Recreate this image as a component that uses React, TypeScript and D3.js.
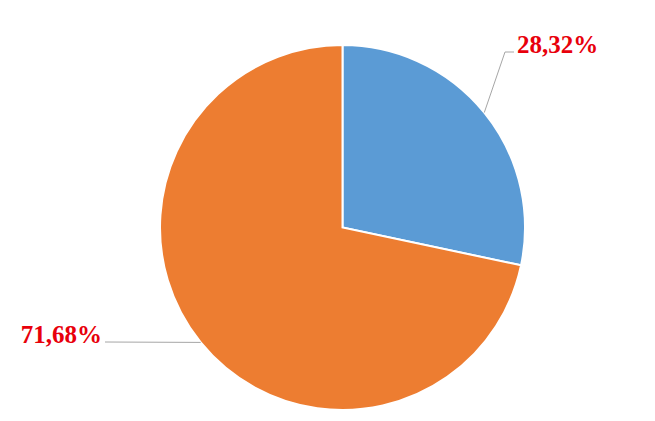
import React from "react";
import * as d3 from "d3";

const categories = ["A", "B"];
const values = [28.32, 71.68];
const labels = ["28,32%", "71,68%"];
const colors = ["#5B9BD5", "#ED7D31"];

const W = 655;
const H = 421;
const cx = 342.5;
const cy = 227.5;
const R = 182.5;

export default function App() {
  const pie = d3
    .pie<number>()
    .sort(null)
    .value((d) => d)
    .startAngle(0)
    .endAngle(2 * Math.PI);
  const arcs = pie(values);
  const arc = d3.arc<d3.PieArcDatum<number>>().innerRadius(0).outerRadius(R);

  const layout = [
    { elbow: [505, 52], end: [514, 52], text: [517, 53], anchor: "start" },
    { elbow: null, end: [105, 342], text: [102, 343], anchor: "end" },
  ];

  return (
    <svg
      width={W}
      height={H}
      style={{ position: "absolute", left: 0, top: 0, background: "#fff" }}
    >
      <g transform={`translate(${cx},${cy})`}>
        {arcs.map((a, i) => (
          <path
            key={categories[i]}
            d={arc(a) || ""}
            fill={colors[i]}
            stroke="#fff"
            strokeWidth={2}
          />
        ))}
      </g>
      {arcs.map((a, i) => {
        const mid = (a.startAngle + a.endAngle) / 2;
        const sx = cx + R * Math.sin(mid);
        const sy = cy - R * Math.cos(mid);
        const L = layout[i];
        const pts: number[][] = [[sx, sy]];
        if (L.elbow) pts.push(L.elbow);
        pts.push(L.end);
        const line = d3.line()(pts as [number, number][]) || "";
        return (
          <g key={"l" + i}>
            <path d={line} fill="none" stroke="#A6A6A6" strokeWidth={1} />
            <text
              x={L.text[0]}
              y={L.text[1]}
              textAnchor={L.anchor as any}
              fill="#E8000B"
              fontFamily="'Liberation Serif', 'Times New Roman', serif"
              fontWeight="bold"
              fontSize={25}
            >
              {labels[i]}
            </text>
          </g>
        );
      })}
    </svg>
  );
}
